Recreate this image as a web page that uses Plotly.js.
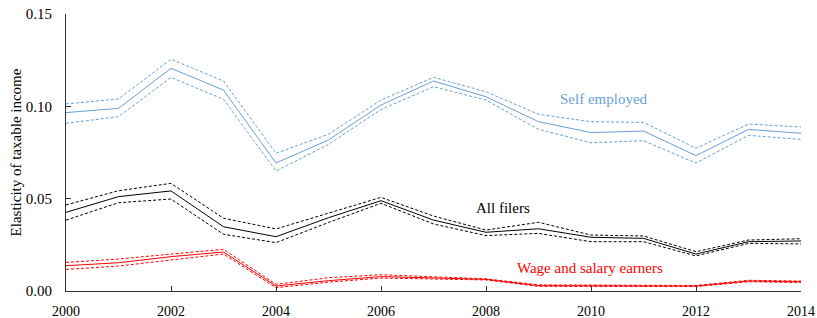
<!DOCTYPE html>
<html><head><meta charset="utf-8">
<script src="https://cdn.plot.ly/plotly-3.0.1.min.js"></script>
<style>html,body{margin:0;padding:0;background:#fff}#c{width:817px;height:318px}</style>
</head><body><div id="c"></div>
<script>
const years = [2000,2001,2002,2003,2004,2005,2006,2007,2008,2009,2010,2011,2012,2013,2014];
const selfEst = [0.0966,0.0989,0.1206,0.1088,0.0693,0.0818,0.1007,0.1137,0.1052,0.0917,0.0858,0.0866,0.0733,0.0875,0.0854];
const selfHi  = [0.1013,0.1040,0.1255,0.1137,0.0746,0.0849,0.1034,0.1157,0.1079,0.0957,0.0917,0.0913,0.0773,0.0904,0.0888];
const selfLo  = [0.0908,0.0944,0.1157,0.1038,0.0650,0.0794,0.0983,0.1106,0.1034,0.0875,0.0803,0.0814,0.0693,0.0843,0.0821];
const allEst = [0.0426,0.0511,0.0542,0.0348,0.0294,0.0397,0.0489,0.0384,0.0318,0.0337,0.0291,0.0285,0.0200,0.0267,0.0271];
const allHi  = [0.0466,0.0543,0.0583,0.0394,0.0336,0.0422,0.0507,0.0406,0.0330,0.0372,0.0303,0.0298,0.0213,0.0276,0.0283];
const allLo  = [0.0384,0.0478,0.0498,0.0307,0.0262,0.0371,0.0475,0.0363,0.0300,0.0312,0.0267,0.0267,0.0190,0.0258,0.0255];
const wageEst = [0.0137,0.0153,0.0186,0.0211,0.0027,0.0056,0.0078,0.0072,0.0063,0.0029,0.0029,0.0029,0.0027,0.0054,0.0050];
const wageHi  = [0.0155,0.0173,0.0200,0.0226,0.0036,0.0072,0.0088,0.0077,0.0066,0.0033,0.0033,0.0033,0.0030,0.0058,0.0054];
const wageLo  = [0.0117,0.0135,0.0168,0.0200,0.0018,0.0048,0.0070,0.0067,0.0060,0.0025,0.0025,0.0025,0.0024,0.0050,0.0046];
const seriesLabels = ["Self employed","All filers","Wage and salary earners"];
const labelPos = [[2010.25,0.1038],[2008.32,0.0448],[2009.99,0.0123]];
const colors = ["#6a9fd8","#000000","#ff0000"];

const groups = [[selfEst,selfHi,selfLo],[allEst,allHi,allLo],[wageEst,wageHi,wageLo]];
const traces = [];
groups.forEach((g,i)=>{
  traces.push({x:years,y:g[1],mode:'lines',line:{color:colors[i],width:1,dash:'3px,2px'},hoverinfo:'skip'});
  traces.push({x:years,y:g[2],mode:'lines',line:{color:colors[i],width:1,dash:'3px,2px'},hoverinfo:'skip'});
  traces.push({x:years,y:g[0],mode:'lines',line:{color:colors[i],width:1}});
});
const font = {family:'Liberation Serif, serif', size:15, color:'#000'};
const xfont = {family:'Liberation Serif, serif', size:14, color:'#000'};
const annotations = seriesLabels.map((t,i)=>({x:labelPos[i][0],y:labelPos[i][1],text:t,showarrow:false,xref:'x',yref:'y',font:Object.assign({},font,{color:colors[i]})}));
const layout = {
  width:817,height:318,margin:{l:66,r:16,t:14,b:27},
  showlegend:false,paper_bgcolor:'#fff',plot_bgcolor:'#fff',font:font,
  xaxis:{range:[2000,2014],tickvals:[2000,2002,2004,2006,2008,2010,2012,2014],ticktext:['2000','2002','2004','2006','2008','2010','2012','2014'],
    ticks:'inside',ticklen:5,tickcolor:'#333',showline:true,linecolor:'#333',linewidth:1,showgrid:false,zeroline:false,tickfont:xfont,
    ticklabelstandoff:7,automargin:false},
  yaxis:{range:[0,0.15],tickvals:[0,0.05,0.10,0.15],ticktext:['0.00','0.05','0.10','0.15'],
    ticks:'inside',ticklen:5,tickcolor:'#333',showline:true,linecolor:'#333',linewidth:1,showgrid:false,zeroline:false,tickfont:font,
    ticklabelstandoff:10,automargin:false,
    title:{text:'Elasticity of taxable income',font:font,standoff:0}},
  annotations:annotations
};
Plotly.newPlot('c',traces,layout,{displayModeBar:false,staticPlot:true});
</script></body></html>
